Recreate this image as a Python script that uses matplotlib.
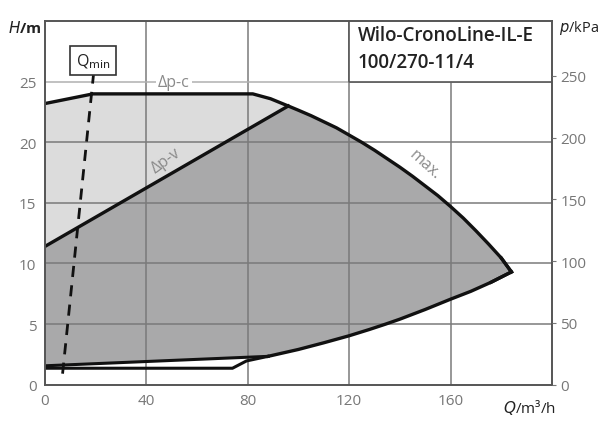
import numpy as np
import matplotlib
matplotlib.use('Agg')
import matplotlib.pyplot as plt

plt.rcParams['font.family'] = ['Open Sans', 'DejaVu Sans']

# max. curve (speed limit), Q in m3/h, H in m
q_max = [0, 19, 82, 89, 96, 100, 105, 110, 115, 120, 125, 130, 135, 140, 145,
         150, 155, 160, 165, 170, 175, 180, 184]
h_max = [23.2, 24.0, 24.0, 23.6, 23.0, 22.65, 22.2, 21.7, 21.2, 20.6, 20.0,
         19.35, 18.65, 17.95, 17.2, 16.4, 15.6, 14.7, 13.75, 12.7, 11.6, 10.45, 9.3]
# min. curve (lower boundary, right part)
q_min = [184, 176, 168, 160, 150, 140, 134.5, 128, 120, 110, 100, 88]
h_min = [9.3, 8.45, 7.7, 7.05, 6.2, 5.4, 5.0, 4.55, 4.03, 3.45, 2.9, 2.33]
# dp-v control line (max) and its lower limit
q_dpv = [0, 96]
h_dpv = [11.4, 23.0]
q_dpv_low = [88, 0]
h_dpv_low = [2.33, 1.55]
# dp-c lower limit
q_dpc_low = [0, 74, 79.5, 88]
h_dpc_low = [1.35, 1.35, 1.95, 2.33]
# Q_min line
q_qmin = [7.0, 19.2]
h_qmin = [0.9, 25.6]

fig = plt.figure(figsize=(6.14, 4.27), dpi=100)
ax = fig.add_axes([0.073, 0.097, 0.826, 0.851])
ax.set_xlim(0, 200)
ax.set_ylim(0, 30)

# light region (dp-c)
lx = q_max + q_min + q_dpv_low[1:]
ly = h_max + h_min + h_dpv_low[1:]
ax.fill(lx, ly, color='#dcdcdc', zorder=1, lw=0)

# dark region (dp-v)
i0 = q_max.index(96)
dx = q_dpv + q_max[i0 + 1:] + q_min[1:] + q_dpv_low[1:]
dy = h_dpv + h_max[i0 + 1:] + h_min[1:] + h_dpv_low[1:]
ax.fill(dx, dy, color='#a9a9aa', zorder=1.5, lw=0)

# grid
for x in [40, 80, 120, 160]:
    ax.axvline(x, color='#7a7a7a', lw=1.1, zorder=2)
for y in [5, 10, 15, 20]:
    ax.axhline(y, color='#7a7a7a', lw=1.1, zorder=2)
ax.axhline(25, color='#b0b0b0', lw=1.1, zorder=2)

# curves
kw = dict(color='#111111', zorder=4, solid_joinstyle='miter')
ax.plot(q_max, h_max, lw=2.4, **kw)
ax.plot(q_min, h_min, lw=2.4, **kw)
ax.plot([q_max[-2], q_max[-1], q_min[1]], [h_max[-2], h_max[-1], h_min[1]], lw=2.4, **kw)
ax.plot(q_dpv, h_dpv, lw=2.4, **kw)
ax.plot(q_dpv_low, h_dpv_low, lw=2.2, **kw)
ax.plot(q_dpc_low, h_dpc_low, lw=2.2, **kw)
ax.plot(q_qmin, h_qmin, color='#111111', lw=2.0, ls=(0, (4, 3)), zorder=5)

# labels on curves
ax.text(50.8, 25, 'Δp-c', color='#8a8a8a', fontsize=11.5, ha='center', va='center',
        bbox=dict(facecolor='white', edgecolor='none', pad=1.5), zorder=3)
ax.text(48, 18.5, 'Δp-v', color='#8a8a8a', fontsize=11.5, ha='center', va='center',
        rotation=36, zorder=3)
ax.text(150, 18.2, 'max.', color='#8a8a8a', fontsize=11.5, ha='center', va='center',
        rotation=-42, zorder=3)
ax.text(19, 26.75, r'Q$_{\rm min}$', color='#222222', fontsize=11.5, ha='center', va='center',
        zorder=6, bbox=dict(facecolor='white', edgecolor='#333333', lw=1.2,
                            boxstyle='square,pad=0.35'))

# title box
ax.fill([120, 200, 200, 120], [25, 25, 30, 30], color='white', zorder=6, lw=0)
ax.plot([120, 120, 200], [30, 25, 25], color='#555555', lw=1.2, zorder=7)
ax.text(123.5, 28.9, 'Wilo-CronoLine-IL-E', fontsize=13.5, color='#222222',
        fontweight='semibold', va='center', zorder=8)
ax.text(123.5, 26.6, '100/270-11/4', fontsize=13.5, color='#222222',
        fontweight='semibold', va='center', zorder=8)

for s in ax.spines.values():
    s.set_color('#555555')
    s.set_linewidth(1.4)
    s.set_zorder(9)

ax.set_xticks([0, 40, 80, 120, 160])
ax.set_yticks([0, 5, 10, 15, 20, 25])
ax.tick_params(axis='both', length=0, labelsize=11, labelcolor='#777777', pad=6)

ax2 = ax.twinx()
ax2.set_ylim(0, 30 * 9.81)
ax2.set_yticks([0, 50, 100, 150, 200, 250])
ax2.tick_params(axis='y', length=3, color='#777777', labelsize=11, labelcolor='#777777', pad=3)
for s in ax2.spines.values():
    s.set_visible(False)

fig.text(0.013, 0.935, r'$\mathbf{\mathit{H}}$/m', fontsize=11, color='#222222',
         fontweight='bold', va='center')
fig.text(0.975, 0.935, r'$\mathit{p}$/kPa', fontsize=10.5, color='#222222',
         va='center', ha='right')
fig.text(0.82, 0.045, r'$\mathit{Q}$/m³/h', fontsize=11, color='#222222', va='center')

fig.savefig('out.png', dpi=100)
